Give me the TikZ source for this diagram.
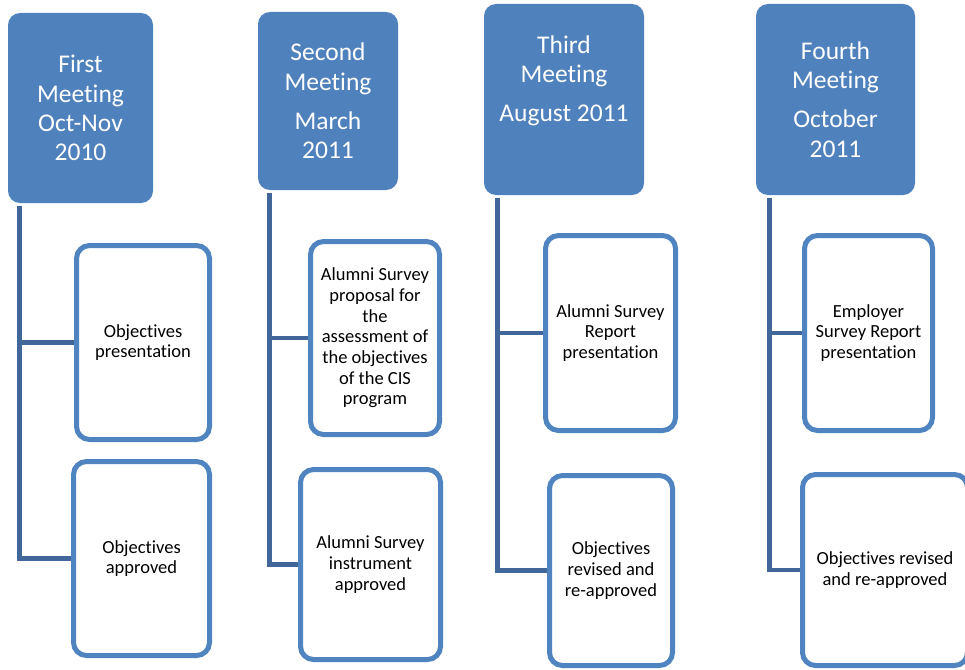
\documentclass[tikz,border=0pt]{standalone}
\usepackage{fontspec}
\setmainfont{Carlito}[Ligatures=NoCommon]
\definecolor{meetblue}{HTML}{4F81BD}
\definecolor{boxblue}{HTML}{5084C0}
\definecolor{linkblue}{HTML}{41679A}

\begin{document}
\begin{tikzpicture}[
  x=1pt, y=-1pt,
  meetnode/.style={rectangle, rounded corners=12pt, fill=meetblue, text=white, align=center, inner sep=2pt, font=\fontsize{25.5}{29.3}\selectfont},
  tasknode/.style={rectangle, rounded corners=13pt, draw=boxblue, line width=5pt, fill=white, align=center, inner sep=2pt, font=\fontsize{18.5}{20.7}\selectfont},
  link/.style={line width=4.7pt, draw=linkblue}
]
\useasboundingbox (0,0) rectangle (965,669);

\node[meetnode, minimum width=145pt, minimum height=190pt] (Meet1) at (80.5,108) {First\\Meeting\\Oct-Nov\\2010};
\node[meetnode, minimum width=140pt, minimum height=178pt] (Meet2) at (328,101) {Second\\Meeting\\[10pt]March\\2011};
\node[meetnode, minimum width=160pt, minimum height=191pt] (Meet3) at (564,99.5) {Third\\Meeting\\[10pt]August 2011\\[4pt]\strut};
\node[meetnode, minimum width=159pt, minimum height=191pt] (Meet4) at (835.5,99.5) {Fourth\\Meeting\\[10pt]October\\2011};

\node[tasknode, minimum width=133pt, minimum height=194pt] (Task1a) at (143,342.5) {Objectives\\presentation};
\node[tasknode, minimum width=136pt, minimum height=194pt] (Task1b) at (141.5,558.5) {Objectives\\approved};

\node[tasknode, minimum width=129pt, minimum height=193pt] (Task2a) at (375,338) {Alumni Survey\\proposal for\\the\\assessment of\\the objectives\\of the CIS\\program};
\node[tasknode, minimum width=140pt, minimum height=190pt] (Task2b) at (370.5,564.5) {Alumni Survey\\instrument\\approved};

\node[tasknode, minimum width=130pt, minimum height=195pt] (Task3a) at (610.5,333) {Alumni Survey\\Report\\presentation};
\node[tasknode, minimum width=123pt, minimum height=190pt] (Task3b) at (611,570.5) {Objectives\\revised and\\re-approved};

\node[tasknode, minimum width=128pt, minimum height=195pt] (Task4a) at (868.5,333) {Employer\\Survey Report\\presentation};
\node[tasknode, minimum width=165pt, minimum height=191pt] (Task4b) at (885,570) {Objectives revised\\and re-approved};

\coordinate (Top1) at ([xshift=11.5pt, yshift=-3pt]Meet1.south west);
\coordinate (Top2) at ([xshift=12pt, yshift=-3pt]Meet2.south west);
\coordinate (Top3) at ([xshift=14pt, yshift=-3pt]Meet3.south west);
\coordinate (Top4) at ([xshift=14pt, yshift=-3pt]Meet4.south west);

\draw[link] (Top1) |- (Task1b.west);
\draw[link] (Top1 |- Task1a.west) -- (Task1a.west);

\draw[link] (Top2) |- (Task2b.west);
\draw[link] (Top2 |- Task2a.west) -- (Task2a.west);

\draw[link] (Top3) |- (Task3b.west);
\draw[link] (Top3 |- Task3a.west) -- (Task3a.west);

\draw[link] (Top4) |- (Task4b.west);
\draw[link] (Top4 |- Task4a.west) -- (Task4a.west);
\end{tikzpicture}
\end{document}
